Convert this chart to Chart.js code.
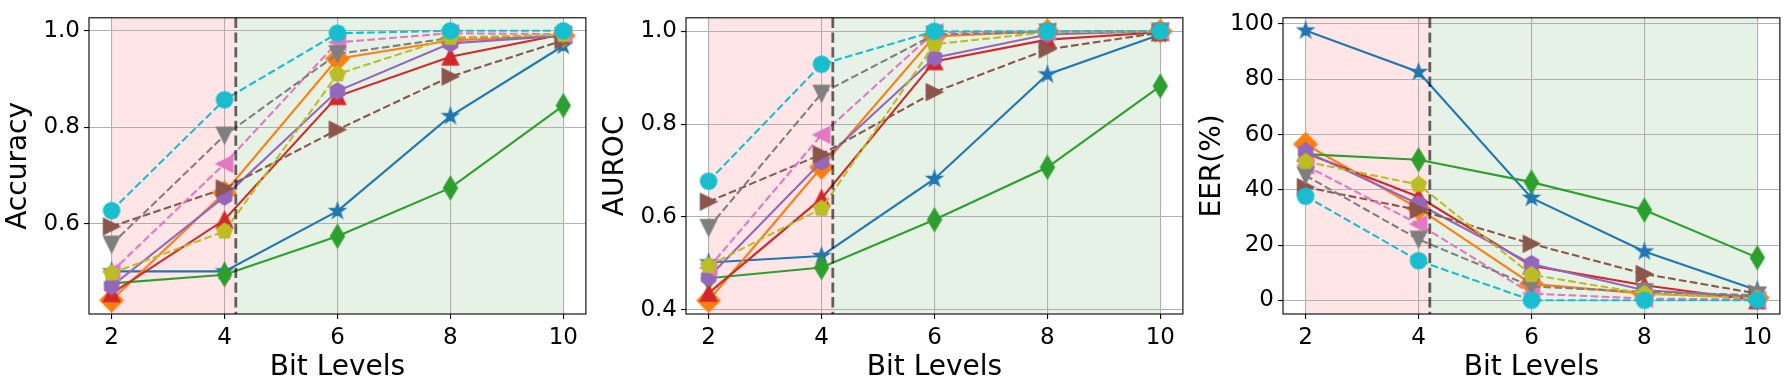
<!DOCTYPE html>
<html lang="en">
<head>
<meta charset="UTF-8">
<title>Metrics vs Bit Levels</title>
<style>
    body {
        margin: 0;
        background: #fff;
        width: 1789px;
        height: 390px;
        overflow: hidden;
        position: relative;
    }
    .panel {
        position: absolute;
        top: 0;
        width: 596px;
        height: 390px;
    }
    canvas { display: block; }
</style>
</head>
<body>
<div class="panel" style="left:0px"><canvas id="accChart" width="596" height="390"></canvas></div>
<div class="panel" style="left:597px"><canvas id="aurocChart" width="596" height="390"></canvas></div>
<div class="panel" style="left:1194px"><canvas id="eerChart" width="596" height="390"></canvas></div>

<script src="https://cdn.jsdelivr.net/npm/chart.js"></script>
<script>
// x positions and the split between the two shaded regions
const bitLevels = [2, 4, 6, 8, 10];
const splitAt = 4.2;

// series order for every metric below (rows)
const seriesNames = ['Series 1', 'Series 2', 'Series 3', 'Series 4', 'Series 5',
                     'Series 6', 'Series 7', 'Series 8', 'Series 9', 'Series 10'];

const accuracy = [
    [0.501, 0.501, 0.626, 0.823, 0.969],
    [0.441, 0.664, 0.942, 0.980, 0.990],
    [0.476, 0.494, 0.574, 0.674, 0.845],
    [0.455, 0.608, 0.864, 0.946, 0.993],
    [0.470, 0.656, 0.875, 0.974, 0.990],
    [0.594, 0.673, 0.795, 0.905, 0.980],
    [0.500, 0.724, 0.976, 0.995, 0.993],
    [0.557, 0.783, 0.952, 0.985, 0.990],
    [0.497, 0.584, 0.910, 0.986, 0.992],
    [0.627, 0.857, 0.995, 1.000, 1.000]
];

const auroc = [
    [0.502, 0.516, 0.682, 0.907, 0.993],
    [0.420, 0.707, 0.989, 1.000, 1.000],
    [0.468, 0.491, 0.594, 0.707, 0.882],
    [0.436, 0.640, 0.935, 0.982, 0.998],
    [0.470, 0.719, 0.943, 0.993, 1.000],
    [0.633, 0.735, 0.869, 0.961, 0.997],
    [0.490, 0.777, 0.998, 1.000, 1.000],
    [0.577, 0.866, 0.993, 0.998, 1.000],
    [0.495, 0.618, 0.972, 0.998, 1.000],
    [0.677, 0.929, 1.000, 1.000, 1.000]
];

const eer = [
    [97.6, 82.6, 37.1, 17.7, 3.7],
    [56.5, 33.3, 6.0, 2.5, 1.0],
    [52.9, 50.9, 42.8, 32.7, 15.5],
    [53.3, 37.5, 12.6, 5.5, 0.0],
    [53.9, 34.9, 13.2, 3.7, 1.3],
    [41.0, 32.7, 20.5, 9.6, 2.5],
    [48.8, 27.6, 2.5, 0.7, 0.3],
    [45.2, 22.1, 5.1, 3.1, 1.9],
    [50.2, 41.9, 9.3, 2.5, 0.7],
    [37.7, 14.4, 0.1, 0.1, 0.1]
];

const accTicks = [0.6, 0.8, 1.0];
const aurocTicks = [0.4, 0.6, 0.8, 1.0];
const eerTicks = [0, 20, 40, 60, 80, 100];

// styling
const colors = ['#1f77b4', '#ff7f0e', '#2ca02c', '#d62728', '#9467bd',
                '#8c564b', '#e377c2', '#7f7f7f', '#bcbd22', '#17becf'];
const markers = ['*', 'D', 'd', '^', 'h', '>', '<', 'v', 'p', 'o'];
const dashed = [false, false, false, false, false, true, true, true, true, true];

Chart.defaults.font.family = '"DejaVu Sans", sans-serif';
Chart.defaults.color = '#000';

function markerCanvas(shape, color) {
    const c = document.createElement('canvas');
    c.width = 34;
    c.height = 34;
    const g = c.getContext('2d');
    const h = 8.1;                // half marker size
    const d = h * Math.SQRT2;     // half diagonal of the diamond
    const poly = pts => {
        g.moveTo(pts[0][0], pts[0][1]);
        for (let i = 1; i < pts.length; i++) g.lineTo(pts[i][0], pts[i][1]);
        g.closePath();
    };
    const regular = (n, r) => {
        const pts = [];
        for (let i = 0; i < n; i++) {
            const a = -Math.PI / 2 + i * 2 * Math.PI / n;
            pts.push([r * Math.cos(a), r * Math.sin(a)]);
        }
        poly(pts);
    };
    g.translate(17, 17);
    g.beginPath();
    if (shape === 'o') g.arc(0, 0, h, 0, Math.PI * 2);
    else if (shape === '*') {
        const pts = [];
        for (let i = 0; i < 10; i++) {
            const r = i % 2 ? h * 0.381966 : h;
            const a = -Math.PI / 2 + i * Math.PI / 5;
            pts.push([r * Math.cos(a), r * Math.sin(a)]);
        }
        poly(pts);
    }
    else if (shape === 'D') poly([[0, -d], [d, 0], [0, d], [-d, 0]]);
    else if (shape === 'd') poly([[0, -d], [0.6 * d, 0], [0, d], [-0.6 * d, 0]]);
    else if (shape === '^') poly([[0, -h], [h, h], [-h, h]]);
    else if (shape === 'v') poly([[0, h], [h, -h], [-h, -h]]);
    else if (shape === '>') poly([[h, 0], [-h, -h], [-h, h]]);
    else if (shape === '<') poly([[-h, 0], [h, -h], [h, h]]);
    else if (shape === 'p') regular(5, h);
    else if (shape === 'h') regular(6, h);
    g.fillStyle = color;
    g.strokeStyle = color;
    g.lineWidth = 1.4;
    g.fill();
    g.stroke();
    return c;
}

const panelPlugin = {
    id: 'panel',
    beforeDraw(chart) {
        const {ctx, chartArea: a, scales: {x}} = chart;
        const x0 = x.getPixelForValue(bitLevels[0]);
        const xs = x.getPixelForValue(splitAt);
        const x1 = x.getPixelForValue(bitLevels[bitLevels.length - 1]);
        ctx.save();
        ctx.fillStyle = 'rgba(255, 0, 0, 0.1)';
        ctx.fillRect(x0, a.top, xs - x0, a.bottom - a.top);
        ctx.fillStyle = 'rgba(0, 128, 0, 0.1)';
        ctx.fillRect(xs, a.top, x1 - xs, a.bottom - a.top);
        ctx.restore();
    },
    afterDatasetsDraw(chart) {
        const {ctx, chartArea: a, scales: {x}} = chart;
        const xs = x.getPixelForValue(splitAt);
        ctx.save();
        ctx.strokeStyle = 'rgba(0, 0, 0, 0.6)';
        ctx.lineWidth = 2.8;
        ctx.setLineDash([10.3, 4.4]);
        ctx.beginPath();
        ctx.moveTo(xs, a.top);
        ctx.lineTo(xs, a.bottom);
        ctx.stroke();
        ctx.setLineDash([]);
        ctx.strokeStyle = '#000';
        ctx.lineWidth = 1.1;
        ctx.strokeRect(a.left, a.top, a.right - a.left, a.bottom - a.top);
        ctx.restore();
    }
};

function makeChart(id, rows, yLabel, yMin, yMax, yTicks, fmt) {
    const datasets = rows.map((row, i) => ({
        label: seriesNames[i],
        data: bitLevels.map((b, j) => ({x: b, y: row[j]})),
        borderColor: colors[i],
        backgroundColor: colors[i],
        borderWidth: 2.1,
        borderDash: dashed[i] ? [7.7, 3.3] : [],
        pointStyle: markerCanvas(markers[i], colors[i]),
        pointRadius: 8,
        tension: 0,
        fill: false,
        clip: false,
        order: rows.length - i
    }));

    new Chart(document.getElementById(id), {
        type: 'line',
        data: {datasets},
        options: {
            responsive: false,
            animation: false,
            devicePixelRatio: 1,
            events: [],
            layout: {padding: {top: 13.3, right: 10, left: 0, bottom: 0}},
            plugins: {legend: {display: false}, tooltip: {enabled: false}},
            scales: {
                x: {
                    type: 'linear',
                    min: 1.6,
                    max: 10.4,
                    afterBuildTicks: s => { s.ticks = bitLevels.map(v => ({value: v})); },
                    afterFit: s => { s.height = 76; },
                    ticks: {font: {size: 23}, color: '#000', padding: 5, autoSkip: false, maxRotation: 0},
                    grid: {color: '#b0b0b0', lineWidth: 1.1, tickColor: '#000', tickLength: 5},
                    border: {display: false},
                    title: {display: true, text: 'Bit Levels', font: {size: 28}, color: '#000',
                            padding: {top: 0, bottom: 5}}
                },
                y: {
                    type: 'linear',
                    min: yMin,
                    max: yMax,
                    afterBuildTicks: s => { s.ticks = yTicks.map(v => ({value: v})); },
                    afterFit: s => { s.width = 89; },
                    ticks: {font: {size: 23}, color: '#000', padding: 4, autoSkip: false,
                            callback: v => fmt(v)},
                    grid: {color: '#b0b0b0', lineWidth: 1.1, tickColor: '#000', tickLength: 5},
                    border: {display: false},
                    title: {display: true, text: yLabel, font: {size: 28}, color: '#000',
                            padding: {top: 2, bottom: 0}}
                }
            }
        },
        plugins: [panelPlugin]
    });
}

makeChart('accChart', accuracy, 'Accuracy', 0.4125, 1.027, accTicks, v => v.toFixed(1));
makeChart('aurocChart', auroc, 'AUROC', 0.391, 1.029, aurocTicks, v => v.toFixed(1));
makeChart('eerChart', eer, 'EER(%)', -4.88, 102.2, eerTicks, v => String(v));
</script>
</body>
</html>
